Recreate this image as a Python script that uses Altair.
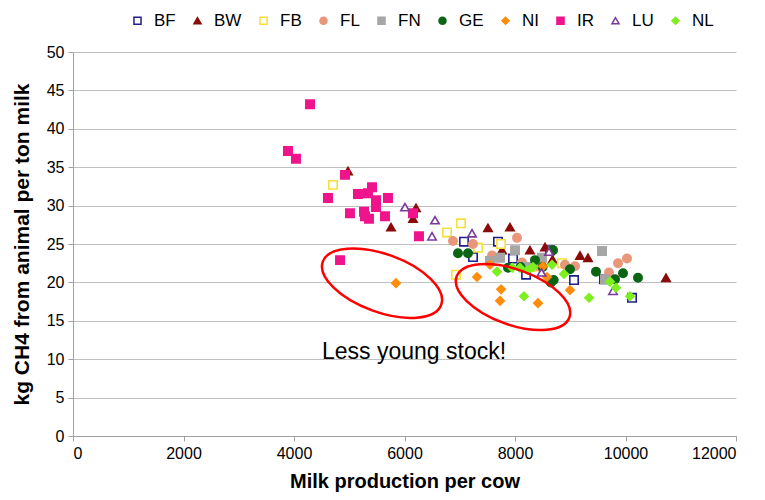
import altair as alt
import pandas as pd

# ---- data ----
series_names = ["BF", "BW", "FB", "FL", "FN", "GE", "NI", "IR", "LU", "NL"]
series_colors = ["#1F1F8C", "#8B0A0A", "#F5E03A", "#E9967A", "#A6A6A6",
                 "#0A6414", "#FF8C0A", "#F0148C", "#7A3A9A", "#7CF01E"]
series_fills = ["white", "#8B0A0A", "white", "#E9967A", "#A6A6A6",
                "#0A6414", "#FF8C0A", "#F0148C", "white", "#7CF01E"]
series_shapes = ["square", "triangle-up", "square", "circle", "square",
                 "circle", "diamond", "square", "triangle-up", "diamond"]

bf_x = [7077, 7240, 7692, 7964, 8633, 9068, 10118, 9611, 8200]
bf_y = [25.3, 23.3, 25.3, 23.1, 24.2, 20.3, 18.0, 20.4, 21.0]

bw_x = [4977, 6208, 6154, 5756, 7511, 7909, 7765, 8271, 8543, 9176, 9321, 10733, 8680]
bw_y = [34.5, 29.7, 28.3, 27.2, 27.1, 27.2, 24.2, 24.2, 24.6, 23.5, 23.2, 20.6, 23.0]

fb_x = [4706, 7023, 6769, 6932, 7330, 7747, 8850, 8300]
fb_y = [32.7, 27.7, 26.5, 21.0, 24.5, 25.0, 22.5, 22.0]

fl_x = [6878, 7240, 8036, 7584, 8127, 8452, 8905, 9086, 10027, 9864, 9701]
fl_y = [25.4, 25.0, 25.8, 23.5, 22.6, 22.0, 22.3, 22.1, 23.1, 22.5, 21.3]

fn_x = [7548, 7729, 8000, 8488, 9575, 9629, 8200]
fn_y = [22.8, 23.2, 24.2, 23.2, 24.1, 20.4, 22.0]

ge_x = [6968, 7149, 7873, 8362, 8688, 8700, 8650, 8995, 9466, 9810, 9955, 10226, 8100, 8500]
ge_y = [23.8, 23.8, 21.9, 22.9, 24.2, 20.3, 20.0, 21.7, 21.4, 20.4, 21.2, 20.6, 22.0, 22.0]

ni_x = [5846, 7312, 7747, 7729, 8416, 8995, 7548, 8507, 8579]
ni_y = [19.9, 20.7, 19.1, 17.6, 17.3, 19.0, 22.3, 22.1, 20.7]

ir_x = [4290, 3891, 4036, 4923, 4615, 5158, 5339, 5412, 5484, 5484, 5701,
        5013, 5267, 5285, 5357, 5647, 6154, 6262, 4833]
ir_y = [43.2, 37.1, 36.1, 34.0, 31.0, 31.5, 31.6, 32.4, 30.7, 29.8, 31.0,
        29.0, 29.2, 28.6, 28.3, 28.6, 29.0, 26.0, 22.9]

lu_x = [6009, 6552, 6498, 7222, 8615, 9774, 8480]
lu_y = [29.8, 28.1, 26.0, 26.4, 24.0, 18.9, 21.3]

nl_x = [7674, 7950, 8090, 8235, 8163, 8326, 8670, 8887, 9340, 9720, 9828, 10081]
nl_y = [21.4, 21.9, 21.9, 21.6, 18.2, 22.0, 22.3, 21.1, 18.0, 20.1, 19.3, 18.2]

all_x = [bf_x, bw_x, fb_x, fl_x, fn_x, ge_x, ni_x, ir_x, lu_x, nl_x]
all_y = [bf_y, bw_y, fb_y, fl_y, fn_y, ge_y, ni_y, ir_y, lu_y, nl_y]

x_ticks = [0, 2000, 4000, 6000, 8000, 10000, 12000]
y_ticks = [0, 5, 10, 15, 20, 25, 30, 35, 40, 45, 50]

# annotation ellipses (centre in data units) and note
ell_x = [5593, 7964]
ell_y = [19.9, 18.1]
ell_size = [15876, 14400]
note_text = ["Less young stock!"]
note_x = [6172]
note_y = [10.9]

rows = []
for name, xs, ys in zip(series_names, all_x, all_y):
    for xv, yv in zip(xs, ys):
        rows.append({"series": name, "milk": xv, "ch4": yv})
df = pd.DataFrame(rows)
ell_df = pd.DataFrame({"ex": ell_x, "ey": ell_y, "es": ell_size})
note_df = pd.DataFrame({"nx": note_x, "ny": note_y, "t": note_text})

FONT = "Liberation Sans"

xscale = alt.Scale(domain=[0, 12000], nice=False, zero=True)
yscale = alt.Scale(domain=[0, 50], nice=False)
xaxis = alt.Axis(values=x_ticks, title="Milk production per cow", grid=False, format="d",
                 titleFontSize=20, titlePadding=10)
yaxis = alt.Axis(values=y_ticks, title="kg CH4 from animal per ton milk", grid=True,
                 titleFontSize=21, titlePadding=14)

points = alt.Chart(df).mark_point(size=70, strokeWidth=1.6, opacity=1, fillOpacity=1).encode(
    x=alt.X("milk:Q", scale=xscale, axis=xaxis),
    y=alt.Y("ch4:Q", scale=yscale, axis=yaxis),
    stroke=alt.Stroke("series:N", scale=alt.Scale(domain=series_names, range=series_colors),
                      legend=alt.Legend(title=None)),
    fill=alt.Fill("series:N", scale=alt.Scale(domain=series_names, range=series_fills),
                  legend=alt.Legend(title=None)),
    shape=alt.Shape("series:N", scale=alt.Scale(domain=series_names, range=series_shapes),
                    legend=alt.Legend(title=None)),
)

ellipse_path = "M -1 0 A 1 0.46 0 1 0 1 0 A 1 0.46 0 1 0 -1 0"
ellipses = alt.Chart(ell_df).mark_point(
    shape=ellipse_path, angle=20, filled=False, color="#FF0000", strokeWidth=2.5, opacity=1
).encode(
    x=alt.X("ex:Q", scale=xscale, axis=xaxis),
    y=alt.Y("ey:Q", scale=yscale, axis=yaxis),
    size=alt.Size("es:Q", scale=None, legend=None),
)

note = alt.Chart(note_df).mark_text(font=FONT, fontSize=23, color="#000000", align="center",
                                    baseline="middle").encode(
    x=alt.X("nx:Q", scale=xscale, axis=xaxis),
    y=alt.Y("ny:Q", scale=yscale, axis=yaxis),
    text="t:N",
)

chart = alt.layer(points, ellipses, note).properties(
    width=663, height=384,
    autosize=alt.AutoSizeParams(type="none"),
    padding={"left": 65, "top": 44, "right": 20, "bottom": 62},
).configure_view(stroke=None).configure_axis(
    labelFont=FONT, titleFont=FONT, labelFontSize=16,
    labelColor="#000000", titleColor="#000000", titleFontWeight="bold",
    domainColor="#A0A0A0", tickColor="#A0A0A0", gridColor="#C0C0C0",
    tickSize=5, labelPadding=4,
).configure_legend(
    orient="none", legendX=56, legendY=-40, direction="horizontal", columns=10,
    labelFont=FONT, labelFontSize=17, labelColor="#000000", symbolSize=50,
    symbolStrokeWidth=1.5, columnPadding=13, labelOffset=8,
)

chart.save("out.html", embed_options={"renderer": "svg", "actions": False})
